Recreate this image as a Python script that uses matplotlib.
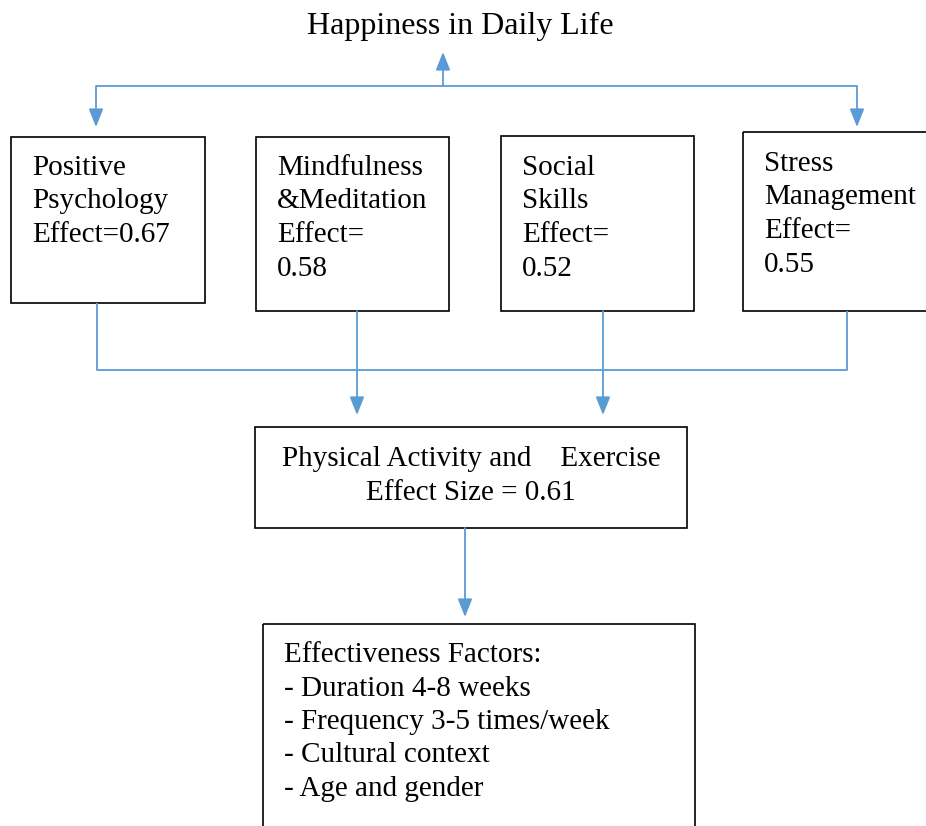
import matplotlib.pyplot as plt
from matplotlib.patches import Rectangle

plt.rcParams['font.family'] = ['Liberation Serif', 'DejaVu Serif']

BLUE = '#5B9BD5'
FS_TITLE = 23
FS = 21

# content
title = 'Happiness in Daily Life'
box_labels = [['Positive', 'Psychology', 'Effect=0.67'],
              ['Mindfulness', '&Meditation', 'Effect=', '0.58'],
              ['Social', 'Skills', 'Effect=', '0.52'],
              ['Stress', 'Management', 'Effect=', '0.55']]
mid_label = ['Physical Activity and    Exercise', 'Effect Size = 0.61']
factors_head = 'Effectiveness Factors:'
factors = ['Duration 4-8 weeks', 'Frequency 3-5 times/week',
           'Cultural context', 'Age and gender']

# layout in pixels (x0, y0, x1, y1)
boxes = [(11, 137, 205, 303), (256, 137, 449, 311),
         (501, 136, 694, 311), (743, 132, 940, 311)]
text_xy = [(32, 175), (277, 175), (522, 175), (764, 171)]
mid_box = (255, 427, 687, 528)
fac_box = (263, 624, 695, 840)
LS = 33.5

fig = plt.figure(figsize=(9.26, 8.26), dpi=100)
ax = fig.add_axes([0, 0, 1, 1])
ax.set_xlim(0, 926)
ax.set_ylim(826, 0)
ax.axis('off')


def rect(b):
    ax.add_patch(Rectangle((b[0], b[1]), b[2] - b[0], b[3] - b[1],
                           fill=False, ec='black', lw=1.2))


def line(xs, ys):
    ax.plot(xs, ys, color=BLUE, lw=1.3, solid_capstyle='butt')


def arrow(x, y0, y1):
    ax.annotate('', xy=(x, y1), xytext=(x, y0),
                arrowprops=dict(arrowstyle='-|>,head_length=0.55,head_width=0.22',
                                mutation_scale=20, color=BLUE, lw=1.3,
                                shrinkA=0, shrinkB=0))


def lines(x, y0, rows, ha='left'):
    for i, r in enumerate(rows):
        ax.text(x, y0 + i * LS, r, ha=ha, va='baseline', fontsize=FS)


ax.text(460, 34, title, ha='center', va='baseline', fontsize=FS_TITLE)

# top connectors
line([96, 857], [86, 86])
arrow(443, 86, 52)
arrow(96, 86, 127)
arrow(857, 86, 127)

for b, (tx, ty), lab in zip(boxes, text_xy, box_labels):
    rect(b)
    lines(tx, ty, lab)

# bottom connectors
line([97, 97, 847, 847], [303, 370, 370, 311])
arrow(357, 311, 415)
arrow(603, 311, 415)

rect(mid_box)
lines(471, 466, mid_label, ha='center')

arrow(465, 528, 617)

rect(fac_box)
lines(284, 662, [factors_head] + ['- ' + f for f in factors])

fig.savefig('out.png', dpi=100)
